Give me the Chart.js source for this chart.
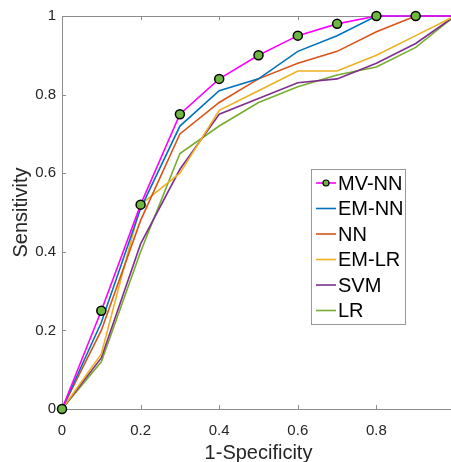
<!DOCTYPE html>
<html>
<head>
<meta charset="utf-8">
<script src="https://cdn.jsdelivr.net/npm/chart.js@4"></script>
<style>
  html, body { margin: 0; padding: 0; background: #fff; overflow: hidden; }
  #wrap { width: 451px; height: 462px; overflow: hidden; position: relative; }
  #roc { display: block; position: absolute; left: 0; top: 0; }
</style>
</head>
<body>
<div id="wrap"><canvas id="roc" width="461" height="462"></canvas></div>
<script>
'use strict';

// 1-Specificity values (x)
const FPR = [0, 0.1, 0.2, 0.3, 0.4, 0.5, 0.6, 0.7, 0.8, 0.9, 1];

// Sensitivity per method
const MV_NN = [0, 0.25, 0.52, 0.75, 0.84, 0.90, 0.95, 0.98, 1, 1, 1];
const EM_NN = [0, 0.22, 0.51, 0.72, 0.81, 0.84, 0.91, 0.95, 1, 1, 1];
const NN    = [0, 0.20, 0.48, 0.70, 0.78, 0.84, 0.88, 0.91, 0.96, 1, 1];
const EM_LR = [0, 0.14, 0.52, 0.60, 0.76, 0.81, 0.86, 0.86, 0.90, 0.95, 1];
const SVM   = [0, 0.13, 0.42, 0.61, 0.75, 0.79, 0.83, 0.84, 0.88, 0.93, 1];
const LR    = [0, 0.12, 0.40, 0.65, 0.72, 0.78, 0.82, 0.85, 0.87, 0.92, 1];

const X_TICKS = [0, 0.2, 0.4, 0.6, 0.8];
const Y_TICKS = [0, 0.2, 0.4, 0.6, 0.8, 1];

const AXIS_GREY = '#8c8c8c';
const TEXT_GREY = '#262626';
const MARKER_GREEN = '#6fb83f';
const FONT = '"Liberation Sans", Arial, sans-serif';

const toXY = (ys) => ys.map((y, i) => ({ x: FPR[i], y }));

const series = [
  { label: 'MV-NN', data: MV_NN, color: '#ff00ff', marker: true },
  { label: 'EM-NN', data: EM_NN, color: '#0072bd' },
  { label: 'NN', data: NN, color: '#d95319' },
  { label: 'EM-LR', data: EM_LR, color: '#edb120' },
  { label: 'SVM', data: SVM, color: '#7e2f8e' },
  { label: 'LR', data: LR, color: '#77ac30' },
];

// legend box inside the axes, MATLAB style
const boxLegend = {
  id: 'boxLegend',
  afterDraw(chart) {
    const ctx = chart.ctx;
    const left = 311, top = 169, w = 94, h = 155, row = 25.5;
    ctx.save();
    ctx.fillStyle = '#fff';
    ctx.fillRect(left, top, w, h);
    ctx.strokeStyle = '#999';
    ctx.lineWidth = 1;
    ctx.strokeRect(left + 0.5, top + 0.5, w, h);
    ctx.font = '20px ' + FONT;
    ctx.textBaseline = 'middle';
    chart.data.datasets.forEach((ds, i) => {
      const y = top + 14 + i * row;
      ctx.strokeStyle = ds.borderColor;
      ctx.lineWidth = 1.6;
      ctx.beginPath();
      ctx.moveTo(left + 5, y);
      ctx.lineTo(left + 25, y);
      ctx.stroke();
      if (ds.label === 'MV-NN') {
        ctx.beginPath();
        ctx.arc(left + 15, y, 3, 0, Math.PI * 2);
        ctx.fillStyle = MARKER_GREEN;
        ctx.fill();
        ctx.strokeStyle = '#000';
        ctx.lineWidth = 1.2;
        ctx.stroke();
      }
      ctx.fillStyle = '#000';
      ctx.fillText(ds.label, left + 27, y + 1);
    });
    ctx.restore();
  },
};

// top border and inward tick marks
const axesBox = {
  id: 'axesBox',
  beforeDatasetsDraw(chart) {
    const { ctx, chartArea: a, scales } = chart;
    ctx.save();
    ctx.strokeStyle = AXIS_GREY;
    ctx.lineWidth = 1;
    ctx.beginPath();
    ctx.moveTo(a.left, a.top + 0.5);
    ctx.lineTo(a.right, a.top + 0.5);
    X_TICKS.forEach((v) => {
      const px = Math.round(scales.x.getPixelForValue(v)) + 0.5;
      ctx.moveTo(px, a.bottom);
      ctx.lineTo(px, a.bottom - 4);
      ctx.moveTo(px, a.top);
      ctx.lineTo(px, a.top + 4);
    });
    Y_TICKS.forEach((v) => {
      const py = Math.round(scales.y.getPixelForValue(v)) + 0.5;
      ctx.moveTo(a.left, py);
      ctx.lineTo(a.left + 4, py);
    });
    ctx.stroke();
    ctx.restore();
  },
};

new Chart(document.getElementById('roc'), {
  type: 'line',
  data: {
    datasets: series.map((s) => ({
      label: s.label,
      data: toXY(s.data),
      borderColor: s.color,
      backgroundColor: s.color,
      borderWidth: 1.6,
      pointRadius: s.marker ? s.data.map((_, i) => (i < s.data.length - 1 ? 4.5 : 0)) : 0,
      pointBackgroundColor: MARKER_GREEN,
      pointBorderColor: '#000',
      pointBorderWidth: 1.5,
      tension: 0,
      clip: false,
    })),
  },
  options: {
    responsive: false,
    animation: false,
    layout: { padding: { left: 0, right: 0, top: 16, bottom: 0 } },
    plugins: {
      legend: { display: false },
      tooltip: { enabled: false },
    },
    scales: {
      x: {
        type: 'linear',
        min: 0,
        max: 1,
        afterFit: (scale) => {
          scale.height = 53;
          scale.paddingLeft = 0;
          scale.paddingRight = 0;
        },
        afterBuildTicks: (scale) => { scale.ticks = X_TICKS.map((v) => ({ value: v })); },
        ticks: {
          padding: 13,
          color: TEXT_GREY,
          font: { family: FONT, size: 15 },
          callback: (v) => String(v),
          maxRotation: 0,
        },
        grid: { display: true, drawOnChartArea: false, drawTicks: false },
        border: { color: AXIS_GREY, width: 1 },
        title: {
          display: true,
          text: '1-Specificity',
          color: TEXT_GREY,
          font: { family: FONT, size: 20 },
          padding: { top: 0, bottom: -3 },
        },
      },
      y: {
        type: 'linear',
        min: 0,
        max: 1,
        afterFit: (scale) => {
          scale.width = 62;
          scale.paddingTop = 0;
          scale.paddingBottom = 0;
          scale.paddingLeft = 0;
          scale.paddingRight = 0;
        },
        afterBuildTicks: (scale) => { scale.ticks = Y_TICKS.map((v) => ({ value: v })); },
        ticks: {
          padding: 6,
          color: TEXT_GREY,
          font: { family: FONT, size: 15 },
          callback: (v) => String(v),
        },
        grid: { display: true, drawOnChartArea: false, drawTicks: false },
        border: { color: AXIS_GREY, width: 1 },
        title: {
          display: true,
          text: 'Sensitivity',
          color: TEXT_GREY,
          font: { family: FONT, size: 20 },
          padding: { top: 9, bottom: 0 },
        },
      },
    },
  },
  plugins: [axesBox, boxLegend],
});
</script>
</body>
</html>
